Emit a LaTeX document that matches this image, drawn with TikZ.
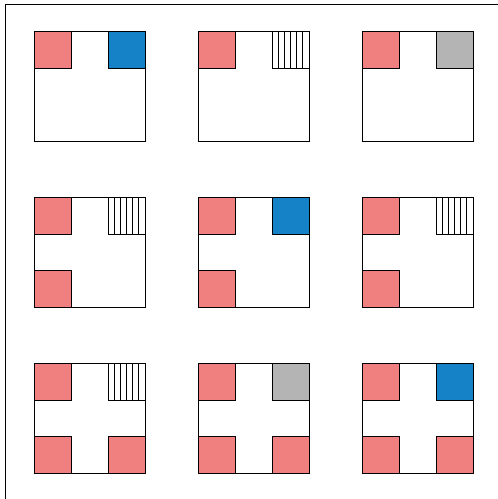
\documentclass[tikz,border=0pt]{standalone}
\begin{document}
\begin{tikzpicture}[x=1pt,y=-1pt,
  outer/.style={draw=black,line width=0.9pt,fill=white},
  redsq/.style={draw=black,line width=0.9pt,fill=red0},
  bluesq/.style={draw=black,line width=0.9pt,fill=blue0},
  graysq/.style={draw=black,line width=0.9pt,fill=gray0},
  hatchsq/.style={draw=black,line width=0.9pt,fill=white},
  frameline/.style={draw=black,line width=0.9pt}]
\definecolor{red0}{HTML}{F08080}
\definecolor{blue0}{HTML}{1582C8}
\definecolor{gray0}{HTML}{B4B4B4}
\useasboundingbox (0,0) rectangle (498,499);
\draw[frameline] (5,499) -- (5,4) -- (498,4);
\newcommand{\cell}[6]{% x y tr-type bl br
  \begin{scope}[shift={(#1,#2)}]
    \draw[outer] (0,0) rectangle (111,110);
    \draw[redsq] (0,0) rectangle (37,37);
    \ifnum#3=1 \draw[bluesq] (74,0) rectangle (111,37);\fi
    \ifnum#3=2 \draw[graysq] (74,0) rectangle (111,37);\fi
    \ifnum#3=3 \draw[hatchsq] (74,0) rectangle (111,37);
      \foreach \i in {1,...,5} \draw[line width=0.9pt] ({74+\i*37/6},0) -- ({74+\i*37/6},37);\fi
    \ifnum#4=1 \draw[redsq] (0,73) rectangle (37,110);\fi
    \ifnum#5=1 \draw[redsq] (74,73) rectangle (111,110);\fi
  \end{scope}}
\cell{34}{31}{1}{0}{0}{}
\cell{198}{31}{3}{0}{0}{}
\cell{362}{31}{2}{0}{0}{}
\cell{34}{197}{3}{1}{0}{}
\cell{198}{197}{1}{1}{0}{}
\cell{362}{197}{3}{1}{0}{}
\cell{34}{363}{3}{1}{1}{}
\cell{198}{363}{2}{1}{1}{}
\cell{362}{363}{1}{1}{1}{}
\end{tikzpicture}
\end{document}
